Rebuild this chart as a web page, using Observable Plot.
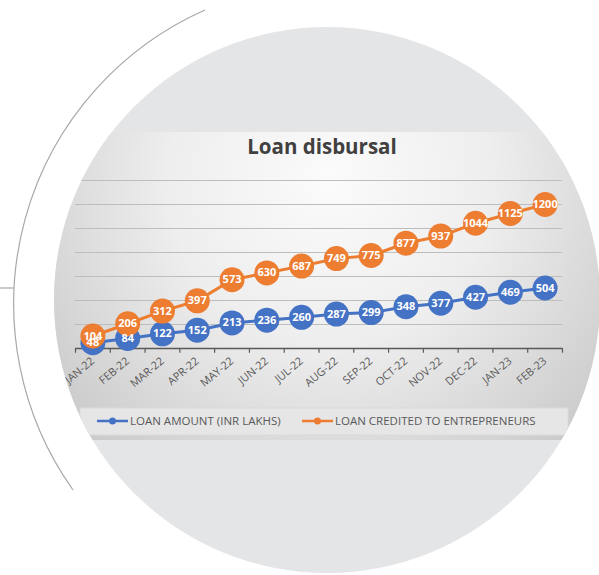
<!DOCTYPE html>
<html><head><meta charset="utf-8">
<script src="https://cdn.jsdelivr.net/npm/d3@7"></script>
<script src="https://cdn.jsdelivr.net/npm/@observablehq/plot@0.6"></script>
<style>
body{margin:0;background:#fff;}
#wrap{position:relative;width:599px;height:575px;overflow:hidden;font-family:"Open Sans",sans-serif;}
#bg,#chart{position:absolute;left:0;top:0;}
#chart svg{clip-path:circle(273px at 327px 300px);}
</style></head>
<body>
<div id="wrap"><div id="bg"></div><div id="chart"></div></div>
<script>
const months = ["JAN-22","FEB-22","MAR-22","APR-22","MAY-22","JUN-22","JUL-22","AUG-22","SEP-22","OCT-22","NOV-22","DEC-22","JAN-23","FEB-23"];
const loanAmount = [48,84,122,152,213,236,260,287,299,348,377,427,469,504];
const loanCredited = [104,206,312,397,573,630,687,749,775,877,937,1044,1125,1200];
const yGrid = [200,400,600,800,1000,1200,1400];
const seriesNames = ["LOAN AMOUNT (INR LAKHS)","LOAN CREDITED TO ENTREPRENEURS"];
const seriesColors = ["#4472C4","#ED7D31"];
const titleText = "Loan disbursal";

const W = 599, H = 575;
// background decorations
const bg = d3.select("#bg").append("svg").attr("width", W).attr("height", H);
const defs = bg.append("defs");
defs.append("clipPath").attr("id","cc").append("circle").attr("cx",327).attr("cy",300).attr("r",273);
const rg = defs.append("radialGradient").attr("id","rg").attr("gradientUnits","userSpaceOnUse")
  .attr("cx",330).attr("cy",180).attr("r",360);
rg.append("stop").attr("offset",0).attr("stop-color","#fbfbfb");
rg.append("stop").attr("offset",0.45).attr("stop-color","#eeeeee");
rg.append("stop").attr("offset",1).attr("stop-color","#c9c9c9");
bg.append("path").attr("d","M205,10 A321.5,321.5 0 0 0 73,490").attr("fill","none").attr("stroke","#a8a8a8").attr("stroke-width",1.2);
bg.append("line").attr("x1",0).attr("x2",14).attr("y1",288).attr("y2",288).attr("stroke","#a8a8a8").attr("stroke-width",1.2);
bg.append("circle").attr("cx",327).attr("cy",300).attr("r",273).attr("fill","#e4e5e7");
const g = bg.append("g").attr("clip-path","url(#cc)");
g.append("rect").attr("x",40).attr("y",132).attr("width",560).attr("height",308).attr("fill","url(#rg)");
g.append("rect").attr("x",80).attr("y",408).attr("width",488).attr("height",27).attr("fill","#e6e6e6").attr("stroke","#dadada");

// title
bg.append("text").attr("x",322).attr("y",154).attr("text-anchor","middle")
  .attr("font-family","Open Sans").attr("font-weight",700).attr("font-size",20.5).attr("fill","#404040").text(titleText);

// legend
const legX = [97, 302];
seriesNames.forEach((name,k)=>{
  const lg = bg.append("g");
  lg.append("line").attr("x1",legX[k]).attr("x2",legX[k]+31).attr("y1",421).attr("y2",421).attr("stroke",seriesColors[k]).attr("stroke-width",2.5);
  lg.append("circle").attr("cx",legX[k]+15.5).attr("cy",421).attr("r",3.5).attr("fill",seriesColors[k]);
  lg.append("text").attr("x",legX[k]+33).attr("y",425).attr("font-family","Open Sans").attr("font-size",11.5).attr("fill","#595959").text(name);
});

// data table
const amt = loanAmount.map((v,i)=>({i, v}));
const cred = loanCredited.map((v,i)=>({i, v}));
const bounds = d3.range(months.length+1).map(i=>i-0.5);

const chart = Plot.plot({
  width: W, height: H,
  marginLeft: 75, marginRight: 37, marginTop: 180, marginBottom: 227,
  style: {background:"transparent", color:"#595959", fontFamily:"Open Sans", fontSize:"11px"},
  x: {type:"linear", domain:[-0.5, months.length-0.5], ticks: d3.range(months.length), tickFormat: i=>months[i], tickRotate:-40, tickSize:0, tickPadding:11, label:null},
  y: {domain:[0,1400], axis:null},
  marks: [
    Plot.ruleY(yGrid, {stroke:"#bdbdbd", strokeWidth:1}),
    Plot.ruleX(bounds, {y1:0, y2:-40, stroke:"#595959", strokeWidth:1.2}),
    Plot.ruleY([0], {stroke:"#595959", strokeWidth:1.5}),
    Plot.line(amt, {x:"i", y:"v", stroke:seriesColors[0], strokeWidth:3}),
    Plot.dot(amt, {x:"i", y:"v", r:12.5, fill:seriesColors[0]}),
    Plot.line(cred, {x:"i", y:"v", stroke:seriesColors[1], strokeWidth:3}),
    Plot.dot(cred, {x:"i", y:"v", r:12.5, fill:seriesColors[1]}),
    Plot.text(amt, {x:"i", y:"v", text:d=>String(d.v), fill:"white", fontWeight:"bold", fontSize:11}),
    Plot.text(cred, {x:"i", y:"v", text:d=>String(d.v), fill:"white", fontWeight:"bold", fontSize:11})
  ]
});
document.getElementById("chart").appendChild(chart);
</script>
</body></html>
